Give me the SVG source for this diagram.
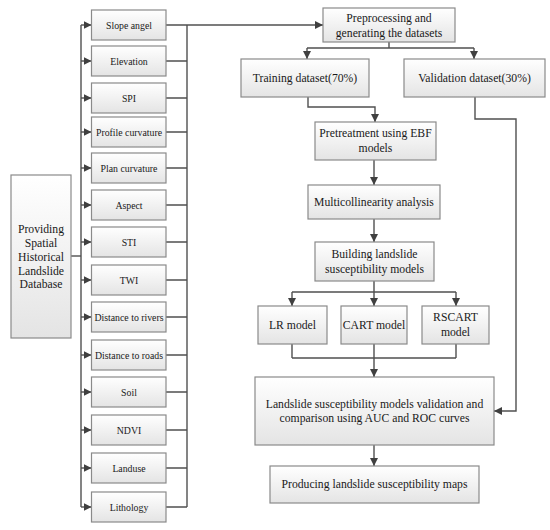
<svg xmlns="http://www.w3.org/2000/svg" width="550" height="530" viewBox="0 0 550 530">
<defs>
<linearGradient id="g" x1="0" y1="0" x2="0" y2="1">
<stop offset="0" stop-color="#ffffff"/>
<stop offset="1" stop-color="#e4e4e4"/>
</linearGradient>
<marker id="a" viewBox="0 0 10 10" refX="10" refY="5" markerWidth="8" markerHeight="8" markerUnits="userSpaceOnUse" orient="auto">
<path d="M0,0 L10,5 L0,10 z" fill="#404040"/>
</marker>
<style>
rect{fill:url(#g);stroke:#8a8a8a;stroke-width:1.2}
text{fill:#1a1a1a;text-anchor:middle}
.s{font-size:9.8px}
.m{font-size:11.7px}
.c path{fill:none;stroke:#505050;stroke-width:1.4}
.c path.ar{marker-end:url(#a)}
</style>
</defs>
<rect x="0" y="0" width="550" height="530" style="fill:#fff;stroke:none"/>
<g class="c">
<path d="M71,256 H81"/>
<path d="M81,25 V507"/>
<path class="ar" d="M81,25 H91.5"/>
<path class="ar" d="M81,61 H91.5"/>
<path class="ar" d="M81,98 H91.5"/>
<path class="ar" d="M81,132 H91.5"/>
<path class="ar" d="M81,168 H91.5"/>
<path class="ar" d="M81,205 H91.5"/>
<path class="ar" d="M81,242 H91.5"/>
<path class="ar" d="M81,280 H91.5"/>
<path class="ar" d="M81,317 H91.5"/>
<path class="ar" d="M81,355 H91.5"/>
<path class="ar" d="M81,392 H91.5"/>
<path class="ar" d="M81,430 H91.5"/>
<path class="ar" d="M81,468 H91.5"/>
<path class="ar" d="M81,507 H91.5"/>
<path d="M166,25 H187 M166,61 H187 M166,98 H187 M166,132 H187 M166,168 H187 M166,205 H187 M166,242 H187 M166,280 H187 M166,317 H187 M166,355 H187 M166,392 H187 M166,430 H187 M166,468 H187 M166,507 H187"/>
<path d="M187,25 V507"/>
<path class="ar" d="M187,25 H323"/>
<path d="M389,42 V48 M307,48 H474"/>
<path class="ar" d="M307,48 V59"/>
<path class="ar" d="M474,48 V59"/>
<path class="ar" d="M308,97 V107 H375 V122"/>
<path class="ar" d="M475,97 V119 H516 V411 H494"/>
<path class="ar" d="M374,160 V185"/>
<path class="ar" d="M374,219 V242"/>
<path d="M374,281 V292 M292,292 H456"/>
<path class="ar" d="M292,292 V306"/>
<path class="ar" d="M374,292 V306"/>
<path class="ar" d="M456,292 V306"/>
<path d="M292,344 V358 M374,344 V358 M456,344 V358 M292,358 H456"/>
<path class="ar" d="M374,358 V377"/>
<path class="ar" d="M374,445 V466"/>
</g>
<g font-family="Liberation Serif, DejaVu Serif, serif">
<g id="n-db"><rect x="11" y="175" width="60" height="163"/>
<text class="m" x="41" y="233">Providing</text><text class="m" x="41" y="247">Spatial</text><text class="m" x="41" y="261">Historical</text><text class="m" x="41" y="274.5">Landslide</text><text class="m" x="41" y="288">Database</text></g>
<g id="n-slope"><rect x="91.5" y="10" width="74.5" height="30"/><text class="s" x="129" y="28.5">Slope angel</text></g>
<g id="n-elev"><rect x="91.5" y="46" width="74.5" height="30"/><text class="s" x="129" y="64.5">Elevation</text></g>
<g id="n-spi"><rect x="91.5" y="83" width="74.5" height="30"/><text class="s" x="129" y="101.5">SPI</text></g>
<g id="n-prof"><rect x="91.5" y="117" width="74.5" height="30"/><text class="s" x="129" y="135.5">Profile curvature</text></g>
<g id="n-plan"><rect x="91.5" y="153" width="74.5" height="30"/><text class="s" x="129" y="171.5">Plan curvature</text></g>
<g id="n-aspect"><rect x="91.5" y="190" width="74.5" height="30"/><text class="s" x="129" y="208.5">Aspect</text></g>
<g id="n-sti"><rect x="91.5" y="227" width="74.5" height="30"/><text class="s" x="129" y="245.5">STI</text></g>
<g id="n-twi"><rect x="91.5" y="265" width="74.5" height="30"/><text class="s" x="129" y="283.5">TWI</text></g>
<g id="n-rivers"><rect x="91.5" y="302" width="74.5" height="30"/><text class="s" x="129" y="320.5">Distance to rivers</text></g>
<g id="n-roads"><rect x="91.5" y="340" width="74.5" height="30"/><text class="s" x="129" y="358.5">Distance to roads</text></g>
<g id="n-soil"><rect x="91.5" y="377" width="74.5" height="30"/><text class="s" x="129" y="395.5">Soil</text></g>
<g id="n-ndvi"><rect x="91.5" y="415" width="74.5" height="30"/><text class="s" x="129" y="433.5">NDVI</text></g>
<g id="n-landuse"><rect x="91.5" y="453" width="74.5" height="30"/><text class="s" x="129" y="471.5">Landuse</text></g>
<g id="n-litho"><rect x="91.5" y="492" width="74.5" height="30"/><text class="s" x="129" y="510.5">Lithology</text></g>
<g id="n-pre"><rect x="323" y="8" width="132" height="34"/><text class="m" x="389" y="21.5">Preprocessing and</text><text class="m" x="389" y="36.5">generating the datasets</text></g>
<g id="n-train"><rect x="241" y="59" width="128" height="38"/><text class="m" x="305" y="82">Training dataset(70%)</text></g>
<g id="n-valid"><rect x="404" y="59" width="141" height="38"/><text class="m" x="474.5" y="82">Validation dataset(30%)</text></g>
<g id="n-ebf"><rect x="315" y="122" width="121" height="38"/><text class="m" x="375.5" y="137">Pretreatment using EBF</text><text class="m" x="375.5" y="152">models</text></g>
<g id="n-multi"><rect x="308" y="185" width="132" height="34"/><text class="m" x="374" y="206">Multicollinearity analysis</text></g>
<g id="n-build"><rect x="315" y="242" width="119" height="39"/><text class="m" x="374.5" y="258">Building landslide</text><text class="m" x="374.5" y="273">susceptibility models</text></g>
<g id="n-lr"><rect x="258" y="306" width="69" height="38"/><text class="m" x="292.5" y="329">LR model</text></g>
<g id="n-cart"><rect x="341" y="306" width="66" height="38"/><text class="m" x="374" y="329">CART model</text></g>
<g id="n-rscart"><rect x="422" y="306" width="67" height="38"/><text class="m" x="455.5" y="321">RSCART</text><text class="m" x="455.5" y="336">model</text></g>
<g id="n-val"><rect x="255" y="377" width="239" height="68"/><text class="m" x="374.5" y="408">Landslide susceptibility models validation and</text><text class="m" x="374.5" y="422">comparison using AUC and ROC curves</text></g>
<g id="n-maps"><rect x="270" y="466" width="209" height="37"/><text class="m" x="374.5" y="488">Producing landslide susceptibility maps</text></g>
</g>
</svg>
